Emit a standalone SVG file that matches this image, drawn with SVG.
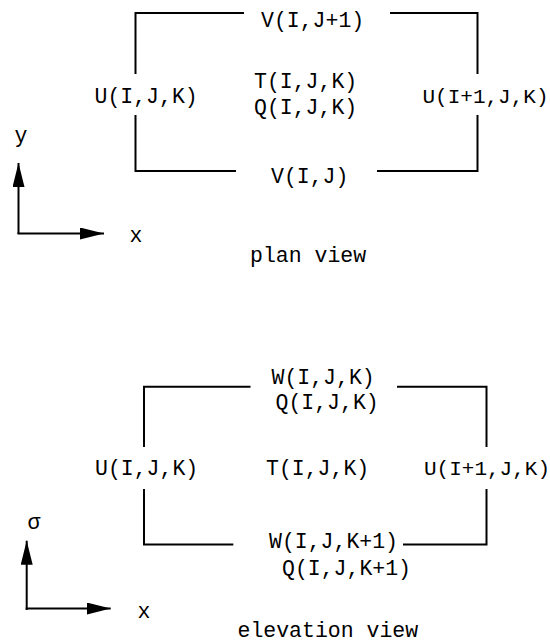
<svg xmlns="http://www.w3.org/2000/svg" width="550" height="641" viewBox="0 0 550 641">
<style>
  text { font-family: "Liberation Mono", "Courier New", monospace; font-size: 21.5px; fill: #000; }
  .ln { fill: none; stroke: #000; stroke-width: 2; stroke-linecap: butt; }
  .mid { text-anchor: middle; }
  .edge { font-size: 21px; }
</style>
<defs>
  <marker id="ah" markerUnits="userSpaceOnUse" markerWidth="26" markerHeight="14" refX="24" refY="6" orient="auto">
    <path d="M0,0 L24,6 L0,12 Z" fill="#000"/>
  </marker>
</defs>
<rect width="550" height="641" fill="#fff"/>

<g id="plan-view">
  <g id="plan-box" class="connectors">
    <path class="ln" d="M244,13 H135.5 V74"/>
    <path class="ln" d="M390,13 H477.5 V74"/>
    <path class="ln" d="M135.5,115 V171 H236"/>
    <path class="ln" d="M477.5,115 V171 H377"/>
  </g>
  <g id="plan-V-top"><text x="261" y="27">V(I,J+1)</text></g>
  <g id="plan-U-left"><text x="94.5" y="103">U(I,J,K)</text></g>
  <g id="plan-TQ"><text x="254" y="88">T(I,J,K)</text><text x="254" y="114">Q(I,J,K)</text></g>
  <g id="plan-U-right"><text class="edge" x="422.5" y="103">U(I+1,J,K)</text></g>
  <g id="plan-V-bottom"><text x="271" y="183">V(I,J)</text></g>
  <g id="plan-axes">
    <path class="ln" d="M18.5,234 V163" marker-end="url(#ah)"/>
    <path class="ln" d="M17.5,233.5 H104" marker-end="url(#ah)"/>
    <text class="mid" x="21" y="142">y</text>
    <text class="mid" x="136" y="242">x</text>
  </g>
  <g id="plan-title"><text x="250" y="262">plan view</text></g>
</g>

<g id="elevation-view">
  <g id="elev-box" class="connectors">
    <path class="ln" d="M250.5,386.7 H144 V447"/>
    <path class="ln" d="M397,386.7 H486.5 V447"/>
    <path class="ln" d="M144,489 V544.5 H233.3"/>
    <path class="ln" d="M486.5,489 V544.5 H403"/>
  </g>
  <g id="elev-WQ-top"><text x="271.5" y="384">W(I,J,K)</text><text x="275.5" y="409">Q(I,J,K)</text></g>
  <g id="elev-U-left"><text x="95" y="474.5">U(I,J,K)</text></g>
  <g id="elev-T"><text x="266" y="474.5">T(I,J,K)</text></g>
  <g id="elev-U-right"><text class="edge" x="424" y="474.5">U(I+1,J,K)</text></g>
  <g id="elev-WQ-bottom"><text x="269" y="547.5">W(I,J,K+1)</text><text x="282" y="574.5">Q(I,J,K+1)</text></g>
  <g id="elev-axes">
    <path class="ln" d="M26.7,610 V540.7" marker-end="url(#ah)"/>
    <path class="ln" d="M25.7,608.5 H110.7" marker-end="url(#ah)"/>
    <text class="mid" x="34" y="529">σ</text>
    <text class="mid" x="144" y="617.5">x</text>
  </g>
  <g id="elev-title"><text x="237.5" y="636.5">elevation view</text></g>
</g>
</svg>
